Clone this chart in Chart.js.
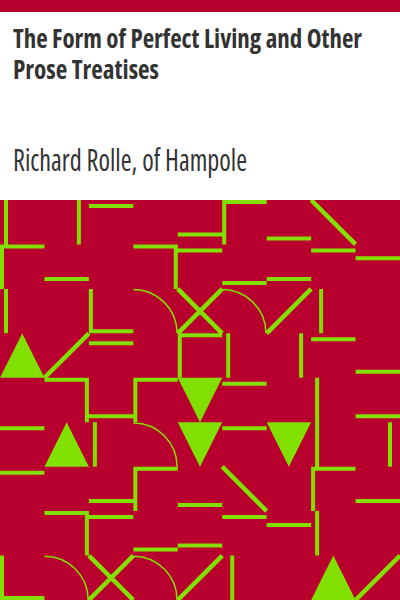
<!DOCTYPE html>
<html>
<head>
<meta charset="utf-8">
<script src="https://cdn.jsdelivr.net/npm/chart.js@4/dist/chart.umd.min.js"></script>
<style>
  html, body { margin: 0; padding: 0; background: #fff; }
  #page { position: relative; width: 400px; height: 600px; overflow: hidden; }
  #strip { position: absolute; left: 0; top: 0; width: 400px; height: 12px; background: #b8002e; }
  .txt { position: absolute; left: 13px; color: #333; white-space: nowrap; font-family: "Open Sans", sans-serif; font-stretch: 75%; }
  .txt span { display: inline-block; transform-origin: 0 0; }
  #title { top: 23px; font-size: 26px; font-weight: bold; line-height: 30.7px; }
  #author { top: 145px; font-size: 30px; line-height: 1; }
  #pattern { position: absolute; left: 0; top: 200px; width: 400px; height: 400px; background: #b8002e; }
</style>
</head>
<body>
<div id="page">
  <div id="strip"></div>
  <div id="title" class="txt"><span data-w="349">The Form of Perfect Living and Other</span><br><span data-w="146">Prose Treatises</span></div>
  <div id="author" class="txt"><span data-w="234">Richard Rolle, of Hampole</span></div>
  <div id="pattern"><canvas id="cover"></canvas></div>
</div>
<script>
    // grid of 9 x 9 cells, [col, row, offset inside the cell]
    var cols = 9, rows = 9;

    var hRules = [
        [2, 0, .135], [4, 0, .775], [5, 0, .045], [6, 0, .865],
        [0, 1, .045], [1, 1, .775], [3, 1, .045], [4, 1, .135], [5, 1, .865], [6, 1, .775], [7, 1, .135], [8, 1, .31],
        [2, 2, .955],
        [2, 3, .225], [4, 3, .045], [7, 3, .135], [8, 3, .865],
        [1, 4, .045], [2, 4, .865], [3, 4, .045], [5, 4, .135], [8, 4, .865],
        [0, 5, .135], [5, 5, .135],
        [0, 6, .135], [2, 6, .775], [3, 6, .045], [4, 6, .865], [7, 6, .045], [8, 6, .775],
        [1, 7, .045], [2, 7, .135], [3, 7, .865], [4, 7, .775], [5, 7, .135], [6, 7, .31],
        [0, 8, .955]
    ];
    var vRules = [
        [0, 0, .135], [1, 0, .775], [5, 0, .045],
        [0, 1, .045], [3, 1, .955],
        [0, 2, .135], [2, 2, .045], [7, 2, .225],
        [4, 3, .045], [5, 3, .135], [6, 3, .775],
        [1, 4, .955], [3, 4, .045], [7, 4, .135],
        [2, 5, .135], [7, 5, .135], [8, 5, .775],
        [3, 6, .045], [7, 6, .045],
        [1, 7, .955], [7, 7, .135],
        [0, 8, .045], [5, 8, .225]
    ];
    var slashDown = [[7, 0], [5, 6]];
    var slashUp = [[6, 2], [1, 3], [4, 8], [8, 8]];
    var crosses = [[4, 2], [2, 8]];
    var arcs = [[3, 2], [5, 2], [3, 5], [1, 8], [3, 8]];
    var trianglesUp = [[0, 3], [1, 5], [7, 8]];
    var trianglesDown = [[4, 4], [4, 5], [6, 5]];

    var red = '#b8002e', green = '#82e000';

    // squeeze the condensed face to the narrower width of the original lettering
    document.querySelectorAll('.txt span').forEach(function (el) {
        var w = el.getBoundingClientRect().width;
        el.style.transform = 'scaleX(' + (+el.dataset.w / w) + ')';
    });

    function gap(x) { return { x: x, y: null }; }

    var rulePoints = [];
    hRules.forEach(function (r) {
        rulePoints.push({ x: r[0], y: r[1] + r[2] }, { x: r[0] + 1, y: r[1] + r[2] }, gap(r[0] + 1));
    });
    vRules.forEach(function (r) {
        rulePoints.push({ x: r[0] + r[2], y: r[1] }, { x: r[0] + r[2], y: r[1] + 1 }, gap(r[0] + r[2]));
    });

    var slashPoints = [];
    slashDown.concat(crosses).forEach(function (c) {
        slashPoints.push({ x: c[0], y: c[1] }, { x: c[0] + 1, y: c[1] + 1 }, gap(c[0] + 1));
    });
    slashUp.concat(crosses).forEach(function (c) {
        slashPoints.push({ x: c[0], y: c[1] + 1 }, { x: c[0] + 1, y: c[1] }, gap(c[0] + 1));
    });

    var datasets = [
        { data: rulePoints, borderColor: green, borderWidth: 4, borderCapStyle: 'butt', spanGaps: false, pointRadius: 0 },
        { data: slashPoints, borderColor: green, borderWidth: 4.5, borderCapStyle: 'butt', spanGaps: false, pointRadius: 0 }
    ];
    trianglesUp.forEach(function (c) {
        datasets.push({
            data: [{ x: c[0], y: c[1] + 1 }, { x: c[0] + .5, y: c[1] }, { x: c[0] + 1, y: c[1] + 1 }],
            fill: { value: c[1] + 1 }, backgroundColor: green, borderColor: 'rgba(0,0,0,0)', borderWidth: 1, pointRadius: 0
        });
    });
    trianglesDown.forEach(function (c) {
        datasets.push({
            data: [{ x: c[0], y: c[1] }, { x: c[0] + .5, y: c[1] + 1 }, { x: c[0] + 1, y: c[1] }],
            fill: { value: c[1] }, backgroundColor: green, borderColor: 'rgba(0,0,0,0)', borderWidth: 1, pointRadius: 0
        });
    });

    // quarter arcs, centred on the lower left corner of their cell
    var arcPlugin = {
        id: 'arcs',
        afterDatasetsDraw: function (chart) {
            var x = chart.scales.x, y = chart.scales.y, ctx = chart.ctx, area = chart.chartArea;
            ctx.save();
            ctx.beginPath();
            ctx.rect(area.left, area.top, area.right - area.left, area.bottom - area.top);
            ctx.clip();
            ctx.strokeStyle = green;
            ctx.lineWidth = 1.5;
            arcs.forEach(function (c) {
                var cx = x.getPixelForValue(c[0]), cy = y.getPixelForValue(c[1] + 1);
                var r = x.getPixelForValue(c[0] + 1) - cx - 0.7;
                ctx.beginPath();
                ctx.arc(cx, cy, r, -Math.PI / 2, 0);
                ctx.stroke();
            });
            ctx.restore();
        }
    };

    new Chart(document.getElementById('cover'), {
        type: 'line',
        data: { datasets: datasets },
        options: {
            responsive: true,
            maintainAspectRatio: false,
            animation: false,
            events: [],
            layout: { padding: 0 },
            plugins: { legend: { display: false }, tooltip: { enabled: false } },
            scales: {
                x: { type: 'linear', min: 0, max: cols, display: false },
                y: { type: 'linear', min: 0, max: rows, reverse: true, display: false }
            }
        },
        plugins: [arcPlugin]
    });
</script>
</body>
</html>
